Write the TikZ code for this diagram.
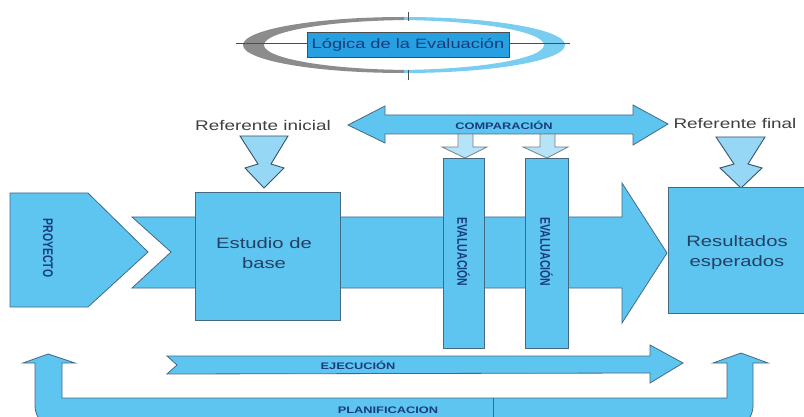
\documentclass[tikz,border=0pt]{standalone}
\usepackage{fontspec}
\setmainfont{Liberation Sans}
\newfontfamily\widefont[FakeStretch=1.35]{Liberation Sans}
\newfontfamily\rotfont[FakeStretch=0.75]{Liberation Sans}
\definecolor{fillb}{RGB}{94,197,240}
\definecolor{lightb}{RGB}{150,215,245}
\definecolor{edgec}{RGB}{70,105,130}
\definecolor{titleb}{RGB}{38,160,225}
\definecolor{txtc}{RGB}{35,65,100}
\definecolor{lblc}{RGB}{25,60,125}
\definecolor{greyc}{RGB}{140,140,140}
\definecolor{swb}{RGB}{120,205,240}
\tikzset{
  blockshape/.style={fill=fillb, draw=edgec, line width=0.8pt, line join=miter},
  refarrow/.style={fill=lightb, draw=edgec!80!black, line width=0.9pt},
  smallarrow/.style={fill=lightb!70!white, draw=gray, line width=0.8pt},
  bigtext/.style={font=\widefont\fontsize{15}{20}\selectfont, text=txtc, align=center},
  reftext/.style={font=\widefont\fontsize{14}{17}\selectfont, text=black!75},
  captext/.style={font=\widefont\bfseries\fontsize{9.5}{11}\selectfont, text=lblc},
  rottext/.style={font=\rotfont\bfseries\fontsize{14}{16}\selectfont, text=lblc, rotate=-90},
}
\begin{document}
\begin{tikzpicture}[x=1pt,y=-1pt]
\useasboundingbox[fill=white] (0,0) rectangle (804,417);
% title swoosh
\begin{scope}
\clip (220,0) rectangle (404,90);
\fill[greyc, even odd rule] (404,45) ellipse [x radius=161, y radius=28]
      (414,45) ellipse [x radius=150, y radius=25];
\end{scope}
\begin{scope}
\clip (404,0) rectangle (590,90);
\fill[swb, even odd rule] (404,45) ellipse [x radius=161, y radius=28]
      (394,45) ellipse [x radius=150, y radius=25];
\end{scope}
\draw[black!70, line width=0.6pt] (236,43) -- (570,43);
\draw[black!70, line width=0.6pt] (408,12) -- (408,21);
\draw[black!70, line width=0.6pt] (408,70) -- (408,80);
\node[draw=black!70, line width=0.8pt, fill=titleb, minimum width=202pt, minimum height=25pt,
      inner sep=0pt, font=\widefont\fontsize{13.5}{15}\selectfont, text=lblc] (title) at (408,44.5) {Lógica de la Evaluación};

% comparacion double arrow
\draw[blockshape] (348,125) -- (385,106) -- (385,115) -- (633,115) -- (633,105) -- (668,124)
   -- (633,145) -- (633,134) -- (385,134) -- (385,143) -- cycle;
\node[captext] (comp) at (504,125) {COMPARACIÓN};

% small down arrows
\draw[smallarrow] (458,134) -- (473,134) -- (473,147) -- (487,147) -- (465,158) -- (442,147) -- (458,147) -- cycle;
\draw[smallarrow] (540,134) -- (555,134) -- (555,147) -- (568,147) -- (547,158) -- (523,147) -- (540,147) -- cycle;

% referente arrows
\node[reftext] (refini) at (263,125) {Referente inicial};
\node[reftext] (reffin) at (735,123) {Referente final};
\draw[refarrow] (240,136) -- (288,136) -- (271,164) -- (284,168) -- (264,188) -- (245,168) -- (258,164) -- cycle;
\draw[refarrow] (716,137) -- (765,137) -- (748,164) -- (762,168) -- (741,188) -- (720,168) -- (734,164) -- cycle;

% proyecto pentagon
\draw[blockshape] (10,193) -- (88,193) -- (148,252) -- (88,307) -- (10,307) -- cycle;
\node[rottext] (proy) at (48,248) {PROYECTO};

% main arrow
\draw[blockshape] (132,217) -- (622,217) -- (622,183) -- (667,253) -- (622,323) -- (622,288)
   -- (132,288) -- (171,252) -- cycle;

% estudio de base
\draw[blockshape] (195,192) rectangle (340,320);
\node[bigtext] (estudio) at (264,253) {Estudio de\\base};

% evaluacion bars
\draw[blockshape] (443,158) rectangle (484,348);
\draw[blockshape] (525,158) rectangle (568,348);
\node[rottext] (eval1) at (463.5,252) {EVALUACIÓN};
\node[rottext] (eval2) at (546.5,252) {EVALUACIÓN};

% resultados
\draw[blockshape] (668,187) rectangle (812,313);
\node[bigtext] (result) at (737,253) {Resultados\\esperados};

% ejecucion arrow
\draw[blockshape] (167,356) -- (650,356) -- (650,345) -- (683,363) -- (650,383) -- (650,373)
   -- (167,374) -- (177,365) -- cycle;
\node[captext] (ejec) at (358,365) {EJECUCIÓN};

% planificacion U arrow
\draw[blockshape, rounded corners=0pt] (23,363) -- (48,354) -- (75,363) -- (62,363) -- (62,398)
   -- (727,398) -- (727,363) -- (713,363) -- (741,353) -- (768,363) -- (753,363)
   [rounded corners=22pt] -- (753,428) -- (35,428) [rounded corners=0pt] -- (35,363) -- cycle;
\draw[edgec, line width=0.8pt] (493,398) -- (493,417);
\node[captext] (plan) at (388,410) {PLANIFICACION};
\end{tikzpicture}
\end{document}
